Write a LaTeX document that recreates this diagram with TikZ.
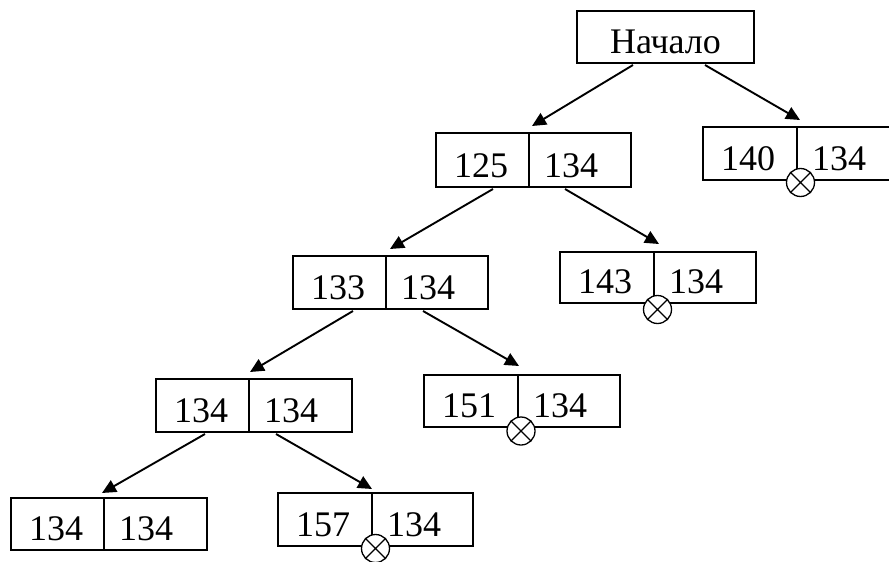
\documentclass[tikz,border=0pt]{standalone}
\usepackage{fontspec}
\setmainfont{Liberation Serif}
\usetikzlibrary{arrows.meta,calc,fit}

\tikzset{
  cell/.style={draw, line width=1.6pt, inner sep=0pt, outer sep=0pt},
  num/.style={inner sep=0pt, font=\fontsize{36}{43}\selectfont},
  link/.style={line width=1.9pt, -{Triangle[length=14pt,width=13pt]}},
  stopmark/.style={circle, draw, fill=white, line width=1.3pt, minimum size=28pt, inner sep=0pt}
}

% two-field cell: name, left, top, right, bottom, divider x, left value, right value
\newcommand\pairbox[8]{%
  \node[cell, fit={(#2,#3) (#4,#5)}] (#1) {};
  \coordinate (#1-d) at (#6,#3);
  \draw[line width=1.5pt] (#1-d) -- (#6,#5);
  \node[num, anchor=base west] (#1-l) at (#2+18,#5-10) {#7};
  \node[num, anchor=base west] (#1-r) at (#6+15,#5-10) {#8};
}

% crossed circle that marks a cut-off branch: name, x, y
\newcommand\cutmark[3]{%
  \node[stopmark] (#1) at (#2,#3) {};
  \draw[line width=1.3pt] (#1.north west) -- (#1.south east)
                          (#1.north east) -- (#1.south west);
}

\begin{document}
\begin{tikzpicture}[x=1pt, y=-1pt]
  \clip (0,0) rectangle (889,562);

  % root
  \node[cell, fit={(577,11) (754,63)}] (root) {};
  \node[num, anchor=base] (root-t) at (665.5,53) {Начало};

  % tree cells
  \pairbox{a}{436}{133}{631}{187}{529}{125}{134}
  \pairbox{b}{703}{127}{898}{180}{797}{140}{134}
  \pairbox{c}{293}{256}{488}{309}{386}{133}{134}
  \pairbox{d}{560}{252}{756}{303}{654}{143}{134}
  \pairbox{e}{156}{379}{352}{432}{249}{134}{134}
  \pairbox{f}{424}{375}{620}{427}{518}{151}{134}
  \pairbox{g}{11}{498}{207}{550}{104}{134}{134}
  \pairbox{h}{278}{493}{473}{546}{372}{157}{134}

  % cut-off marks
  \cutmark{bx}{800.5}{182.5}
  \cutmark{dx}{657.5}{309.5}
  \cutmark{fx}{521}{431}
  \cutmark{hx}{375.5}{548.5}

  % branches
  \draw[link] ($(root.south west)+(56,2)$)  -- ($(a-d)+(3,-7)$);
  \draw[link] ($(root.south west)+(128,2)$) -- ($(b-d)+(3,-7)$);
  \draw[link] ($(a.south west)+(57,2)$)     -- ($(c-d)+(4,-7)$);
  \draw[link] ($(a.south west)+(129,2)$)    -- ($(d-d)+(5,-8)$);
  \draw[link] ($(c.south west)+(60,2)$)     -- ($(e-d)+(1,-7)$);
  \draw[link] ($(c.south west)+(130,2)$)    -- ($(f-d)+(1,-9)$);
  \draw[link] ($(e.south west)+(49,2)$)     -- ($(g-d)+(-2,-5)$);
  \draw[link] ($(e.south west)+(120,2)$)    -- ($(h-d)+(0,-4)$);
\end{tikzpicture}
\end{document}
